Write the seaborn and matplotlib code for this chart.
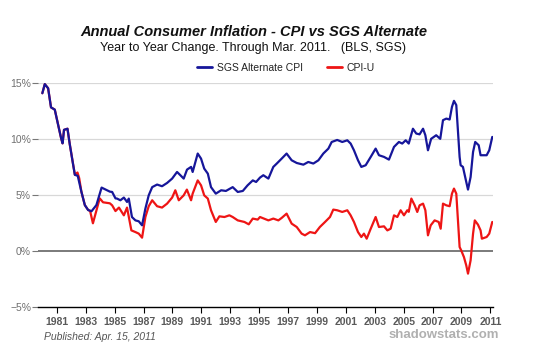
import pandas as pd
import matplotlib
matplotlib.use("Agg")
import matplotlib.pyplot as plt
import seaborn as sns

# DATA (decimal years / percent)

sgs_years = [
    1980.0, 1980.17, 1980.4, 1980.6, 1980.86, 1981.1, 1981.3, 1981.4, 1981.5, 1981.74,
    1981.9, 1982.13, 1982.25, 1982.45, 1982.7, 1982.94, 1983.17, 1983.4, 1983.74, 1984.1,
    1984.43, 1984.67, 1984.83, 1985.06, 1985.17, 1985.4, 1985.64, 1985.86, 1985.98, 1986.2,
    1986.44, 1986.67, 1986.9, 1987.13, 1987.36, 1987.6, 1987.94, 1988.28, 1988.63, 1988.98,
    1989.32, 1989.55, 1989.78, 1990.01, 1990.29, 1990.4, 1990.75, 1990.98, 1991.2, 1991.45,
    1991.67, 1992.0, 1992.37, 1992.7, 1993.17, 1993.52, 1993.87, 1994.2, 1994.56, 1994.79,
    1995.06, 1995.29, 1995.64, 1995.98, 1996.22, 1996.56, 1996.9, 1997.25, 1997.6, 1998.06,
    1998.4, 1998.75, 1999.1, 1999.44, 1999.79, 2000.02, 2000.4, 2000.75, 2001.1, 2001.33,
    2001.56, 2001.84, 2002.07, 2002.37, 2002.72, 2003.06, 2003.29, 2003.64, 2003.98, 2004.33,
    2004.67, 2004.9, 2005.14, 2005.35, 2005.64, 2005.87, 2006.1, 2006.34, 2006.5, 2006.68,
    2006.9, 2007.25, 2007.53, 2007.72, 2007.95, 2008.18, 2008.34, 2008.48, 2008.64, 2008.87,
    2008.94, 2009.1, 2009.33, 2009.45, 2009.63, 2009.8, 2009.95, 2010.19, 2010.32, 2010.48,
    2010.74, 2010.92, 2011.13,
]
sgs_values = [
    14.06, 14.87, 14.5, 12.8, 12.6, 11.2, 10.05, 9.6, 10.8, 10.9,
    9.5, 7.7, 6.8, 6.7, 5.3, 4.1, 3.66, 3.55, 4.1, 5.66,
    5.45, 5.3, 5.27, 4.7, 4.68, 4.53, 4.77, 4.38, 4.68, 3.04,
    2.74, 2.66, 2.3, 3.79, 4.97, 5.7, 5.93, 5.78, 6.07, 6.46,
    7.05, 6.76, 6.46, 7.26, 7.5, 7.05, 8.69, 8.24, 7.35, 6.9,
    5.7, 5.12, 5.42, 5.36, 5.7, 5.27, 5.36, 5.86, 6.3, 6.16,
    6.55, 6.76, 6.46, 7.5, 7.8, 8.24, 8.69, 8.09, 7.85, 7.7,
    7.94, 7.8, 8.09, 8.69, 9.13, 9.72, 9.9, 9.72, 9.87, 9.58,
    8.98, 8.09, 7.5, 7.65, 8.39, 9.13, 8.54, 8.39, 8.15, 9.28,
    9.72, 9.58, 9.87, 9.58, 10.9, 10.47, 10.4, 10.9, 10.32, 8.98,
    10.0, 10.32, 10.0, 11.66, 11.8, 11.72, 12.84, 13.38, 13.0, 8.39,
    7.65, 7.5, 6.16, 5.48, 6.6, 8.83, 9.72, 9.43, 8.54, 8.54,
    8.54, 8.98, 10.17,
]

cpi_years = [
    1980.0, 1980.17, 1980.4, 1980.6, 1980.86, 1981.1, 1981.3, 1981.4, 1981.5, 1981.74,
    1981.9, 1982.13, 1982.25, 1982.43, 1982.55, 1982.7, 1982.94, 1983.17, 1983.3, 1983.5,
    1983.97, 1984.2, 1984.67, 1984.83, 1985.06, 1985.3, 1985.64, 1985.86, 1986.16, 1986.44,
    1986.67, 1986.9, 1987.13, 1987.36, 1987.6, 1987.94, 1988.28, 1988.63, 1988.98, 1989.2,
    1989.44, 1989.78, 1990.0, 1990.29, 1990.4, 1990.75, 1990.98, 1991.2, 1991.45, 1991.67,
    1991.9, 1992.0, 1992.25, 1992.6, 1992.94, 1993.17, 1993.52, 1993.98, 1994.28, 1994.56,
    1994.9, 1995.06, 1995.34, 1995.64, 1995.98, 1996.33, 1996.56, 1996.9, 1997.25, 1997.6,
    1997.94, 1998.17, 1998.52, 1998.87, 1999.2, 1999.56, 1999.9, 2000.13, 2000.4, 2000.75,
    2001.1, 2001.33, 2001.56, 2001.84, 2002.07, 2002.25, 2002.44, 2002.72, 2003.06, 2003.29,
    2003.64, 2003.87, 2004.1, 2004.33, 2004.56, 2004.79, 2005.02, 2005.25, 2005.35, 2005.53,
    2005.76, 2005.94, 2006.1, 2006.34, 2006.5, 2006.68, 2006.87, 2007.14, 2007.42, 2007.56,
    2007.72, 2007.95, 2008.18, 2008.34, 2008.48, 2008.64, 2008.87, 2008.98, 2009.17, 2009.33,
    2009.45, 2009.63, 2009.8, 2009.92, 2010.14, 2010.32, 2010.41, 2010.74, 2010.92, 2011.13,
]
cpi_values = [
    14.06, 14.87, 14.5, 12.8, 12.6, 11.2, 10.05, 9.6, 10.8, 10.9,
    9.5, 7.7, 6.8, 7.0, 6.5, 5.3, 4.1, 3.66, 3.6, 2.48,
    4.7, 4.35, 4.26, 4.08, 3.57, 3.88, 3.19, 3.88, 1.85, 1.7,
    1.56, 1.2, 3.04, 4.0, 4.53, 4.0, 3.88, 4.23, 4.77, 5.42,
    4.53, 4.97, 5.48, 4.53, 5.12, 6.3, 5.86, 4.97, 4.68, 3.64,
    2.9, 2.6, 3.1, 3.04, 3.19, 3.04, 2.74, 2.6, 2.39, 2.9,
    2.81, 3.04, 2.9, 2.74, 2.9, 2.74, 2.96, 3.34, 2.45, 2.15,
    1.56, 1.41, 1.7, 1.6, 2.15, 2.6, 3.04, 3.7, 3.64, 3.49,
    3.64, 3.19, 2.6, 1.7, 1.26, 1.56, 1.11, 2.0, 3.04, 2.15,
    2.21, 1.85, 2.0, 3.19, 3.04, 3.64, 3.19, 3.64, 3.5, 4.68,
    4.08, 3.49, 4.08, 4.23, 3.64, 1.41, 2.3, 2.74, 2.6, 2.0,
    4.23, 4.08, 4.0, 5.12, 5.57, 5.12, 0.37, 0.07, -0.53, -1.27,
    -2.0, -0.82, 1.56, 2.74, 2.36, 1.85, 1.11, 1.26, 1.56, 2.6,
]

series_names = ["SGS Alternate CPI", "CPI-U"]
y_ticks = [-5, 0, 5, 10, 15]
x_tick_years = list(range(1981, 2012, 2))

df = pd.concat([
    pd.DataFrame({"year": cpi_years, "value": cpi_values, "series": "CPI-U"}),
    pd.DataFrame({"year": sgs_years, "value": sgs_values, "series": "SGS Alternate CPI"}),
], ignore_index=True)

# STYLE

sns.set_style("white")
plt.rcParams["font.family"] = ["Liberation Sans", "DejaVu Sans"]

BLUE = "#16169a"
RED = "#ee1515"

fig = plt.figure(figsize=(5.33, 3.61), dpi=100)
ax = fig.add_axes([0.0713, 0.1487, 0.8542, 0.6223])

# red first, blue on top
sns.lineplot(data=df, x="year", y="value", hue="series",
             hue_order=["CPI-U", "SGS Alternate CPI"],
             palette={"CPI-U": RED, "SGS Alternate CPI": BLUE},
             estimator=None, sort=False, linewidth=1.6, ax=ax, legend=False)

ax.set_xlim(1979.7, 2011.2)
ax.set_ylim(-5, 15)

# grid lines
for v in [5, 10, 15]:
    ax.axhline(v, color="#d8d8d8", linewidth=0.9, zorder=0)
ax.axhline(0, color="#7a7a7a", linewidth=1.4, zorder=1)

for s in ["top", "right", "left"]:
    ax.spines[s].set_visible(False)
ax.spines["bottom"].set_color("black")
ax.spines["bottom"].set_linewidth(1.0)

ax.set_yticks(y_ticks)
ax.set_yticklabels([f"{t}%" if t >= 0 else f"\u2212{abs(t)}%" for t in y_ticks],
                   color="#707070", fontsize=7.5)
ax.tick_params(axis="y", length=4, width=0.8, color="#777777", pad=1, left=True)

ax.set_xticks(x_tick_years)
ax.set_xticklabels([str(y) for y in x_tick_years], fontsize=7.5,
                   fontweight="bold", color="#5a5a5a")
ax.tick_params(axis="x", length=4, width=0.8, color="black", pad=3, bottom=True)
ax.set_xlabel("")
ax.set_ylabel("")

# titles
fig.text(0.476, 0.911, "Annual Consumer Inflation - CPI vs SGS Alternate",
         ha="center", va="center", fontsize=10.5, fontweight="bold",
         style="italic", color="#111111")
fig.text(0.475, 0.866, "Year to Year Change. Through Mar. 2011.   (BLS, SGS)",
         ha="center", va="center", fontsize=9, color="#111111")

# legend
handles = [plt.Line2D([], [], color=BLUE, linewidth=2),
           plt.Line2D([], [], color=RED, linewidth=2)]
fig.legend(handles, series_names, loc="center", bbox_to_anchor=(0.536, 0.812),
           ncol=2, frameon=False, fontsize=7.5, handlelength=1.45,
           handletextpad=0.45, columnspacing=2.3, labelcolor="#222222")

# footer
fig.text(0.083, 0.066, "Published: Apr. 15, 2011", ha="left", va="center",
         fontsize=7.5, style="italic", color="#555555")
fig.text(0.937, 0.072, "shadowstats.com", ha="right", va="center",
         fontsize=9.5, fontweight="bold", color="#b0b0b0")

fig.savefig("out.png", dpi=100)
